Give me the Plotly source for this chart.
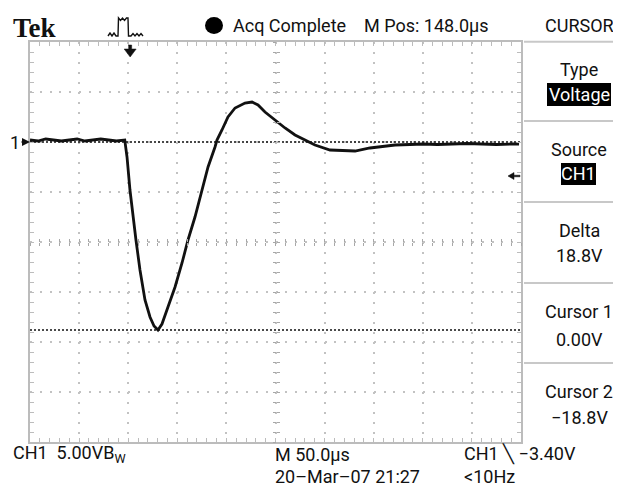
import plotly.graph_objects as go

time_us = [0, 8, 16, 24, 32, 40, 48, 56, 64, 72, 80, 88, 96.5,
           98.8, 101.8, 104.9, 107.9, 112.0, 117.1, 122.2, 126.3, 130.3,
           134.4, 140.5, 147.7, 154.8, 160.9, 168.0, 174.1, 181.3, 188.4,
           190.4, 195.5, 201.6, 208.8, 218.9, 226.1, 232.2, 239.3, 249.5,
           259.7, 269.9, 280.0, 290.2, 305.5, 320.8, 331.0, 346.2, 361.5,
           371.7, 387.0, 400, 415, 430, 445, 460, 475, 490, 498]
ch1_volts = [0.2, 0.1, 0.3, 0.2, 0.1, 0.2, 0.3, 0.1, 0.2, 0.3, 0.2, 0.1, 0.2,
             -1.5, -4.8, -7.5, -9.8, -12.8, -15.8, -17.5, -18.4, -18.8,
             -18.2, -16.5, -14.5, -12.1, -9.8, -7.5, -5.1, -2.5, -0.5,
             0.2, 1.2, 2.5, 3.4, 3.9, 4.0, 3.7, 3.0, 2.2,
             1.4, 0.7, 0.2, -0.3, -0.8, -0.9, -0.9, -0.6, -0.4,
             -0.3, -0.25, -0.2, -0.25, -0.2, -0.15, -0.2, -0.25, -0.2, -0.2]

cursor_levels_v = [0.0, -18.8]        # Cursor 1, Cursor 2
trigger_level_v = -3.4
trigger_time_us = 102
x_range_us = [0, 500]                 # 10 div x 50 us
y_range_v = [-30, 10]                 # 8 div x 5 V, ground 2 div above centre

header_texts = ["Acq Complete", "M Pos: 148.0\u00b5s", "CURSOR"]
menu_labels = ["Type", "Source", "Delta", "18.8V", "Cursor 1", "0.00V",
               "Cursor 2", "\u221218.8V"]
menu_boxes = ["Voltage", "CH1"]
footer_texts = ["CH1  5.00VB<sub>W</sub>", "M 50.0\u00b5s",
                "CH1 \u2572 \u22123.40V", "20\u2013Mar\u201307 21:27", "<10Hz"]

# ---------------- geometry (page pixels; page body has an 8px margin) ----------------
OFF = 8
PAGE_W, PAGE_H = 621, 493
PL, PT, PW, PH = 30, 42, 491, 400          # plot area in page pixels
W, H = PAGE_W - OFF, PAGE_H - OFF
L, T = PL - OFF, PT - OFF
R, B = W - L - PW, H - T - PH
US_PER_PX = (x_range_us[1] - x_range_us[0]) / PW


def px(x):
    return (x - PL) / PW


def py(y):
    return (PT + PH - y) / PH


FONT = "Roboto, 'Open Sans', sans-serif"
INK = "#111111"
GRID = "#c2c2c2"
FRAME = "#bcbcbc"
CTICK = "#a8a8a8"

fig = go.Figure()

# cursor lines (drawn on the centre-graticule axes, which share the main ranges)
for lv, (xa, ya) in zip(cursor_levels_v, [("x2", "y2"), ("x3", "y3")]):
    fig.add_trace(go.Scatter(
        x=x_range_us, y=[lv, lv], mode="lines", xaxis=xa, yaxis=ya,
        line=dict(color=INK, width=1.6, dash="2px,2px"),
        hoverinfo="skip", showlegend=False))

# CH1 waveform
fig.add_trace(go.Scatter(
    x=time_us, y=ch1_volts, mode="lines",
    line=dict(color=INK, width=2.8),
    showlegend=False, name="CH1"))

axis_common = dict(showticklabels=False, zeroline=False, fixedrange=True)

fig.update_layout(
    width=W, height=H,
    margin=dict(l=L, r=R, t=T, b=B, pad=0),
    paper_bgcolor="white", plot_bgcolor="white",
    xaxis=dict(range=x_range_us, tick0=0, dtick=50,
               showgrid=True, gridcolor=GRID, gridwidth=1.5,
               griddash="2px,8px",
               showline=True, linecolor=FRAME, linewidth=1.5,
               mirror="ticks", ticks="inside", ticklen=4, tickcolor=FRAME,
               minor=dict(dtick=10, ticks="inside", ticklen=4,
                          tickcolor=FRAME, showgrid=False),
               **axis_common),
    yaxis=dict(range=y_range_v, tick0=0, dtick=5,
               showgrid=True, gridcolor=GRID, gridwidth=1.5,
               griddash="2px,7.82px",
               showline=True, linecolor=FRAME, linewidth=1.5,
               mirror="ticks", ticks="inside", ticklen=4, tickcolor=FRAME,
               minor=dict(dtick=1, ticks="inside", ticklen=4,
                          tickcolor=FRAME, showgrid=False),
               **axis_common),
    xaxis2=dict(overlaying="x", anchor="free", position=0.5,
                range=x_range_us, tick0=0, dtick=10, showgrid=False,
                showline=False, ticks="outside", ticklen=3,
                tickcolor=CTICK, **axis_common),
    xaxis3=dict(overlaying="x", anchor="free", position=0.5,
                range=x_range_us, tick0=0, dtick=10, showgrid=False,
                showline=False, ticks="inside", ticklen=3,
                tickcolor=CTICK, **axis_common),
    yaxis2=dict(overlaying="y", anchor="free", position=0.5,
                range=y_range_v, tick0=0, dtick=1, showgrid=False,
                showline=False, ticks="outside", ticklen=3,
                tickcolor=CTICK, **axis_common),
    yaxis3=dict(overlaying="y", anchor="free", position=0.5,
                range=y_range_v, tick0=0, dtick=1, showgrid=False,
                showline=False, ticks="inside", ticklen=3,
                tickcolor=CTICK, **axis_common),
)

ann = []


def txt(s, x, y, size=18, anchor="left", color=INK, family=FONT, **kw):
    ann.append(dict(text=s, x=px(x), y=py(y), xref="paper", yref="paper",
                    xanchor=anchor, yanchor="middle", showarrow=False,
                    font=dict(size=size, color=color, family=family), **kw))


# header
txt("<b>Tek</b>", 11, 28, size=27, family="'Liberation Serif', 'DejaVu Serif', serif")
txt(header_texts[0], 231, 26)
txt(header_texts[1], 362, 26)
txt(header_texts[2], 543, 26)

# right menu
menu_y = [69.5, 149, 230.5, 255.5, 311.5, 339.5, 391, 417]
for s, y in zip(menu_labels, menu_y):
    txt(s, 579, y, anchor="center")
txt(menu_boxes[0], 579, 94.5, anchor="center", color="white")
txt(menu_boxes[1], 578.5, 174, anchor="center", color="white")

# footer
txt(footer_texts[0], 11, 454)
txt(footer_texts[1], 273, 454)
txt(footer_texts[2], 462, 454)
txt(footer_texts[3], 273, 476)
txt(footer_texts[4], 462, 476)

# ground marker "1 ->"
ann.append(dict(text="1", x=0, y=cursor_levels_v[0], xref="x", yref="y",
                ax=-15, ay=0, showarrow=True, arrowhead=2, arrowsize=1,
                arrowwidth=1.6, arrowcolor=INK, standoff=0,
                font=dict(size=18, color=INK, family=FONT)))
fig.update_layout(annotations=ann)

shapes = []
# menu separators
for y in [41.7, 121, 202, 283, 363]:
    shapes.append(dict(type="line", xref="paper", yref="paper",
                       x0=px(524), x1=px(621), y0=py(y), y1=py(y),
                       line=dict(color="#c8c8c8", width=2)))
# highlighted boxes
for (x0, x1, y0, y1) in [(547, 611, 83, 106), (561, 596, 163, 185)]:
    shapes.append(dict(type="rect", xref="paper", yref="paper",
                       x0=px(x0), x1=px(x1), y0=py(y0), y1=py(y1),
                       fillcolor="black", line=dict(width=0), layer="below"))
# acquisition dot
shapes.append(dict(type="circle", xref="paper", yref="paper",
                   x0=px(205), x1=px(223), y0=py(17), y1=py(34),
                   fillcolor="black", line=dict(width=0)))
# trigger type pulse icon
icon_pts = [(108, 36), (110, 33), (112, 36), (114, 33), (116, 36), (118, 36),
            (118.5, 18), (120.5, 20.5), (122.5, 18), (124.5, 20.5), (126.5, 18),
            (128, 18), (128.5, 36), (131, 36), (133, 33.5), (135, 36),
            (137, 33.5), (139, 36), (141, 33.5), (143, 36)]
path = "M " + " L ".join(f"{px(a):.5f},{py(b):.5f}" for a, b in icon_pts)
shapes.append(dict(type="path", xref="paper", yref="paper", path=path,
                   line=dict(color=INK, width=1.4)))

# trigger position marker (bold down arrow at trigger time, top of screen)
tx = trigger_time_us
u = US_PER_PX
down_arrow = [(tx - 1.5 * u, 45), (tx + 1.5 * u, 45), (tx + 1.5 * u, 49),
              (tx + 6 * u, 49), (tx, 57), (tx - 6 * u, 49), (tx - 1.5 * u, 49)]
path = "M " + " L ".join(f"{a:.4f},{py(b):.5f}" for a, b in down_arrow) + " Z"
shapes.append(dict(type="path", xref="x", yref="paper", path=path,
                   fillcolor=INK, line=dict(color=INK, width=0.5)))

# trigger level marker (left arrow at right edge)
tl = trigger_level_v
vpp = (y_range_v[1] - y_range_v[0]) / PH   # volts per pixel
xe = x_range_us[1]
left_arrow = [(xe - 13 * u, tl), (xe - 7 * u, tl + 3.5 * vpp),
              (xe - 7 * u, tl + 0.8 * vpp), (xe - 1 * u, tl + 0.8 * vpp),
              (xe - 1 * u, tl - 0.8 * vpp), (xe - 7 * u, tl - 0.8 * vpp),
              (xe - 7 * u, tl - 3.5 * vpp)]
path = "M " + " L ".join(f"{a:.4f},{b:.4f}" for a, b in left_arrow) + " Z"
shapes.append(dict(type="path", xref="x", yref="y", path=path,
                   fillcolor=INK, line=dict(color=INK, width=0.5)))

fig.update_layout(shapes=shapes)

fig.write_html("out.html")
